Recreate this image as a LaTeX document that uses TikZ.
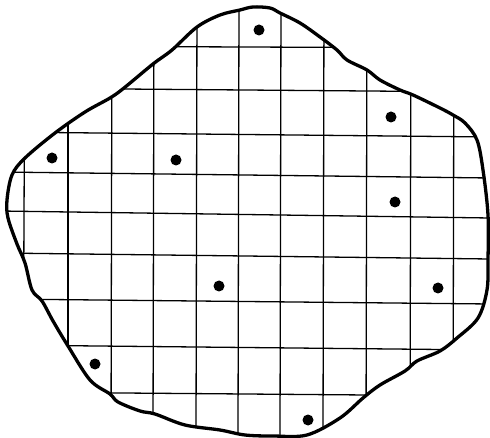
\documentclass[tikz,border=0pt]{standalone}
\begin{document}
\begin{tikzpicture}[x=1pt,y=-1pt,
  gridline/.style={line width=1.3pt,black},
  outline/.style={line width=3.3pt,black,line join=round},
  dotmark/.style={fill=black}]
\useasboundingbox (0,0) rectangle (490,438);
\def\blob{plot[smooth cycle,tension=0.55] coordinates {
 (253,7) (270,8) (280,13) (300,23) (320,37) (337,50) (347,60) (367,70) (380,80) (400,90) (413,95) (440,108) (453,115) (465,123) (477,140) (483,170) (488,215) (488,260) (487,290) (478,318) (457,338) (440,351) (417,361) (405,371) (380,385) (363,398) (340,418) (307,435) (273,436) (245,435) (220,430) (185,425) (155,414) (140,411) (118,402) (110,394) (90,380) (68,346) (53,321) (42,301) (32,290) (25,263) (17,244) (8,218) (7,200) (12,175) (25,158) (55,133) (85,112) (110,98) (124,88) (153,64) (172,50) (197,27) (220,15) (240,10)}}
\begin{scope}
\clip \blob;
\foreach \yl/\yr [count=\i] in {46/48, 88/92, 132/137, 172/178, 211/218, 253/259, 299/304, 345/350, 392/396} {
  \coordinate (hl\i) at (0,\yl);
  \coordinate (hr\i) at (490,\yr);
  \draw[gridline] (hl\i) -- (hr\i);
}
\foreach \xt/\xb [count=\i] in {25/23, 68/68, 112/111, 154/153, 197/196, 239/238, 281/280, 324/323, 367/366, 411/410, 454/453} {
  \coordinate (vt\i) at (\xt,0);
  \coordinate (vb\i) at (\xb,438);
  \draw[gridline] (vt\i) -- (vb\i);
}
\end{scope}
\draw[outline] \blob;
\foreach \x/\y [count=\i] in {259/30, 52/158, 176/160, 391/117, 395/202, 219/286, 438/288, 95/364, 308/420} {
  \node[dotmark,circle,inner sep=0pt,minimum size=11pt] (d\i) at (\x,\y) {};
}
\end{tikzpicture}
\end{document}
